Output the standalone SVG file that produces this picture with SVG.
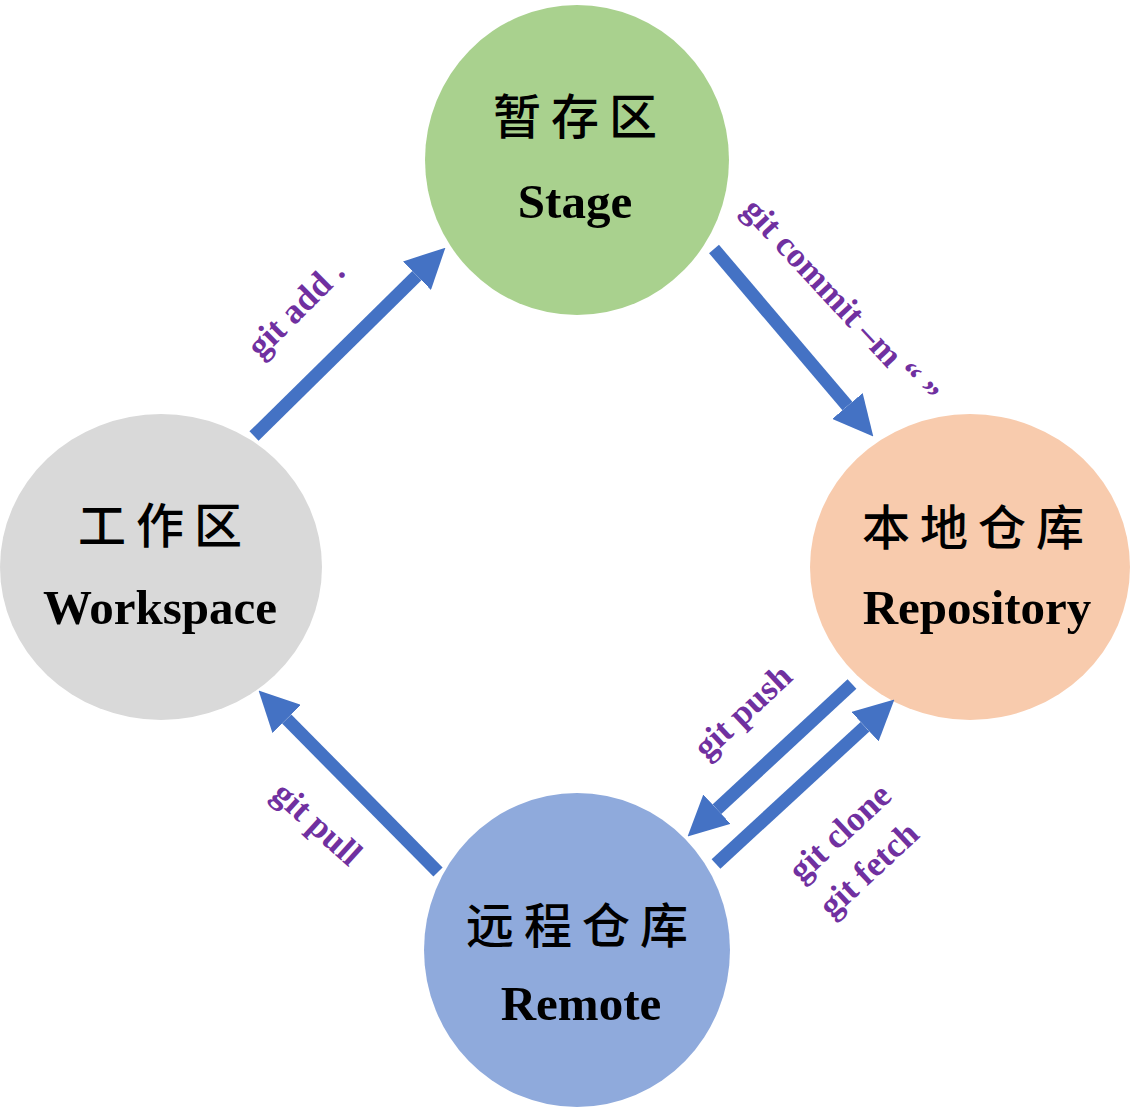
<svg xmlns="http://www.w3.org/2000/svg" width="1132" height="1109" viewBox="0 0 1132 1109">
<style>
.cn{font-family:"Noto Sans CJK SC","Noto Sans CJK JP",sans-serif;font-size:48px;font-weight:500;fill:#000;text-anchor:middle;letter-spacing:10px}
.en{font-family:"Liberation Serif","Times New Roman",serif;font-weight:bold;font-size:49px;fill:#000;text-anchor:middle}
.lbl{font-family:"Liberation Serif","Times New Roman",serif;font-weight:bold;font-size:35px;fill:#7030A0;text-anchor:middle}
.arr{stroke:#4472C4;stroke-width:13;fill:none;marker-end:url(#head)}
</style>
<defs>
<marker id="head" markerUnits="userSpaceOnUse" markerWidth="40" markerHeight="40" viewBox="0 0 38 38" refX="0" refY="19" orient="auto">
<path d="M0,0 L38,19 L0,38 Z" fill="#4472C4"/>
</marker>
</defs>
<rect width="1132" height="1109" fill="#fff"/>
<g id="stage">
<ellipse cx="577" cy="160" rx="152" ry="155" fill="#A9D18E"/>
<text class="cn" x="580" y="134">暂存区</text>
<text class="en" x="575" y="218">Stage</text>
</g>
<g id="workspace">
<ellipse cx="161" cy="567" rx="161" ry="153" fill="#D9D9D9"/>
<text class="cn" x="165" y="543">工作区</text>
<text class="en" x="160" y="624">Workspace</text>
</g>
<g id="repository">
<ellipse cx="970" cy="567" rx="160" ry="153" fill="#F8CBAD"/>
<text class="cn" x="978" y="545">本地仓库</text>
<text class="en" x="977" y="624">Repository</text>
</g>
<g id="remote">
<ellipse cx="577" cy="950" rx="153" ry="157" fill="#8FAADC"/>
<text class="cn" x="582" y="943">远程仓库</text>
<text class="en" x="581" y="1020">Remote</text>
</g>
<g id="connectors">
<path class="arr" d="M254,436 L416.9,275.7"/>
<path class="arr" d="M714,249 L847.4,406"/>
<path class="arr" d="M852,684 L716.9,809.2"/>
<path class="arr" d="M716,864 L865,726.7"/>
<path class="arr" d="M438,872 L286.7,719"/>
</g>
<g id="labels">
<text class="lbl" transform="translate(298,311) rotate(-45)" y="8">git add .</text>
<text class="lbl" transform="translate(838,304) rotate(47)" y="8">git commit –m “ ”</text>
<text class="lbl" transform="translate(745,714) rotate(-43)" y="8">git push</text>
<text class="lbl" transform="translate(842,835) rotate(-43)" y="8">git clone</text>
<text class="lbl" transform="translate(871,872) rotate(-43)" y="8">git fetch</text>
<text class="lbl" transform="translate(315,826) rotate(42)" y="8">git pull</text>
</g>
</svg>
